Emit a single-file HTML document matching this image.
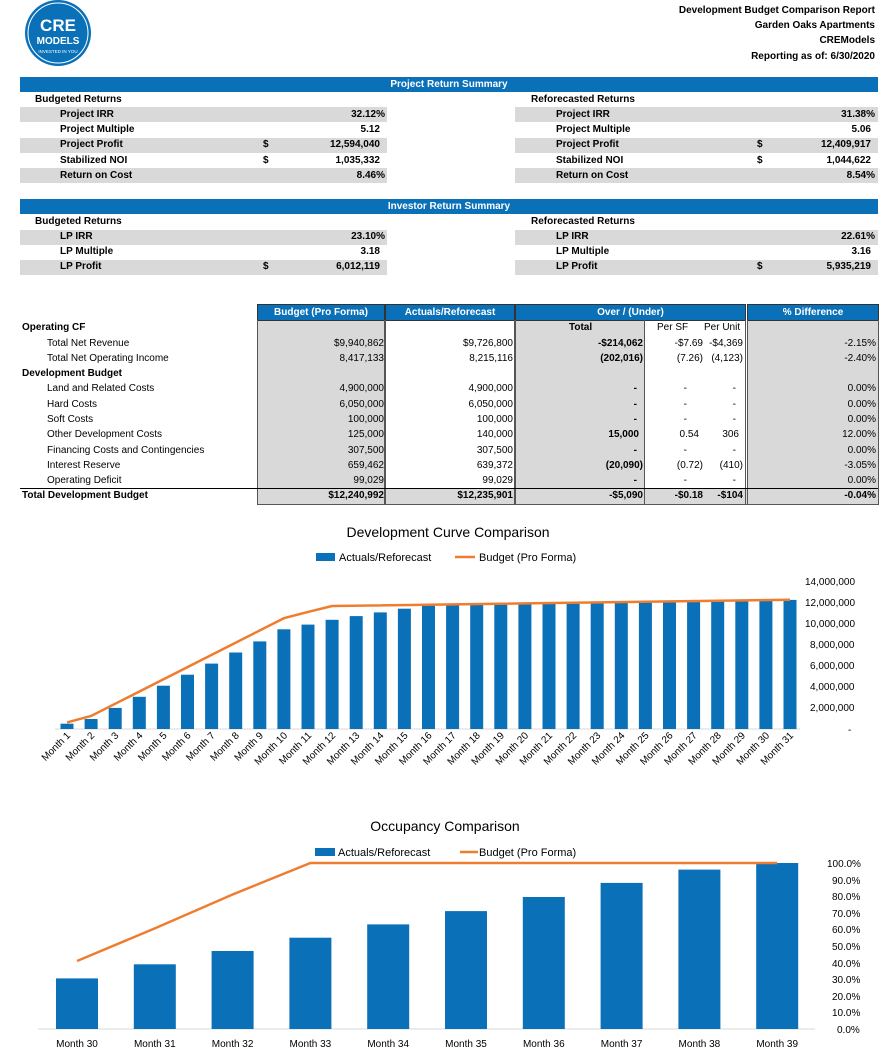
<!DOCTYPE html>
<html><head><meta charset="utf-8"><style>
body{margin:0;width:896px;height:1063px;background:#fff;position:relative;overflow:hidden;font-family:"Liberation Sans",sans-serif;color:#000}
.t{position:absolute;font-size:10px;line-height:12px;white-space:nowrap}
.b{font-weight:bold}
.r{text-align:right}
.bx{position:absolute}
.g{background:#d9d9d9}
.blue{background:#0a70b8}
.w{color:#fff}
</style></head><body>
<!-- logo -->
<svg class="bx" style="left:0;top:0" width="120" height="70">
<circle cx="58" cy="33" r="33" fill="#0a70b8"/>
<circle cx="58" cy="33" r="30" fill="none" stroke="#fff" stroke-width="1"/>
<text x="58" y="31" text-anchor="middle" font-family="Liberation Sans" font-weight="bold" font-size="17" fill="#fff">CRE</text>
<text x="58" y="44" text-anchor="middle" font-family="Liberation Sans" font-weight="bold" font-size="10" fill="#fff">MODELS</text>
<text x="58" y="53" text-anchor="middle" font-family="Liberation Sans" font-size="4.5" fill="#fff">INVESTED IN YOU</text>
</svg>
<div class="t b r" style="right:21px;top:5px">Development Budget Comparison Report</div>
<div class="t b r" style="right:21px;top:20px">Garden Oaks Apartments</div>
<div class="t b r" style="right:21px;top:35px">CREModels</div>
<div class="t b r" style="right:21px;top:51px">Reporting as of: 6/30/2020</div>

<!-- Project Return Summary -->
<div class="bx blue" style="left:20px;top:77px;width:858px;height:15px"></div>
<div class="t b w" style="left:20px;width:858px;text-align:center;top:79px">Project Return Summary</div>
<div class="bx g" style="left:20px;top:107px;width:367px;height:15px"></div>
<div class="bx g" style="left:20px;top:138px;width:367px;height:15px"></div>
<div class="bx g" style="left:20px;top:168px;width:367px;height:15px"></div>
<div class="bx g" style="left:515px;top:107px;width:363px;height:15px"></div>
<div class="bx g" style="left:515px;top:138px;width:363px;height:15px"></div>
<div class="bx g" style="left:515px;top:168px;width:363px;height:15px"></div>
<div class="t b" style="left:35px;top:94px">Budgeted Returns</div>
<div class="t b" style="left:60px;top:109px">Project IRR</div>
<div class="t b" style="left:60px;top:124px">Project Multiple</div>
<div class="t b" style="left:60px;top:139px">Project Profit</div>
<div class="t b" style="left:60px;top:155px">Stabilized NOI</div>
<div class="t b" style="left:60px;top:170px">Return on Cost</div>
<div class="t b" style="left:263px;top:139px">$</div>
<div class="t b" style="left:263px;top:155px">$</div>
<div class="t b r" style="right:511px;top:109px">32.12%</div>
<div class="t b r" style="right:516px;top:124px">5.12</div>
<div class="t b r" style="right:516px;top:139px">12,594,040</div>
<div class="t b r" style="right:516px;top:155px">1,035,332</div>
<div class="t b r" style="right:511px;top:170px">8.46%</div>
<div class="t b" style="left:531px;top:94px">Reforecasted Returns</div>
<div class="t b" style="left:556px;top:109px">Project IRR</div>
<div class="t b" style="left:556px;top:124px">Project Multiple</div>
<div class="t b" style="left:556px;top:139px">Project Profit</div>
<div class="t b" style="left:556px;top:155px">Stabilized NOI</div>
<div class="t b" style="left:556px;top:170px">Return on Cost</div>
<div class="t b" style="left:757px;top:139px">$</div>
<div class="t b" style="left:757px;top:155px">$</div>
<div class="t b r" style="right:21px;top:109px">31.38%</div>
<div class="t b r" style="right:25px;top:124px">5.06</div>
<div class="t b r" style="right:25px;top:139px">12,409,917</div>
<div class="t b r" style="right:25px;top:155px">1,044,622</div>
<div class="t b r" style="right:21px;top:170px">8.54%</div>

<!-- Investor -->
<div class="bx blue" style="left:20px;top:199px;width:858px;height:15px"></div>
<div class="t b w" style="left:20px;width:858px;text-align:center;top:201px">Investor Return Summary</div>
<div class="bx g" style="left:20px;top:230px;width:367px;height:15px"></div>
<div class="bx g" style="left:20px;top:260px;width:367px;height:15px"></div>
<div class="bx g" style="left:515px;top:230px;width:363px;height:15px"></div>
<div class="bx g" style="left:515px;top:260px;width:363px;height:15px"></div>
<div class="t b" style="left:35px;top:216px">Budgeted Returns</div>
<div class="t b" style="left:60px;top:231px">LP IRR</div>
<div class="t b" style="left:60px;top:246px">LP Multiple</div>
<div class="t b" style="left:60px;top:261px">LP Profit</div>
<div class="t b" style="left:263px;top:261px">$</div>
<div class="t b r" style="right:511px;top:231px">23.10%</div>
<div class="t b r" style="right:516px;top:246px">3.18</div>
<div class="t b r" style="right:516px;top:261px">6,012,119</div>
<div class="t b" style="left:531px;top:216px">Reforecasted Returns</div>
<div class="t b" style="left:556px;top:231px">LP IRR</div>
<div class="t b" style="left:556px;top:246px">LP Multiple</div>
<div class="t b" style="left:556px;top:261px">LP Profit</div>
<div class="t b" style="left:757px;top:261px">$</div>
<div class="t b r" style="right:21px;top:231px">22.61%</div>
<div class="t b r" style="right:25px;top:246px">3.16</div>
<div class="t b r" style="right:25px;top:261px">5,935,219</div>

<!-- Main table -->
<div class="bx g" style="left:258px;top:320px;width:126px;height:184px"></div>
<div class="bx g" style="left:516px;top:320px;width:128px;height:184px"></div>
<div class="bx g" style="left:748px;top:320px;width:130px;height:184px"></div>
<div class="bx g" style="left:386px;top:489px;width:128px;height:15px"></div>
<div class="bx g" style="left:644px;top:489px;width:104px;height:15px"></div>
<div class="bx blue" style="left:258px;top:305px;width:126px;height:15px;outline:1px solid #333"></div>
<div class="bx blue" style="left:386px;top:305px;width:128px;height:15px;outline:1px solid #333"></div>
<div class="bx blue" style="left:516px;top:305px;width:229px;height:15px;outline:1px solid #333"></div>
<div class="bx blue" style="left:748px;top:305px;width:130px;height:15px;outline:1px solid #333"></div>
<div class="t b w" style="left:258px;width:126px;text-align:center;top:307px">Budget (Pro Forma)</div>
<div class="t b w" style="left:386px;width:128px;text-align:center;top:307px">Actuals/Reforecast</div>
<div class="t b w" style="left:516px;width:229px;text-align:center;top:307px">Over / (Under)</div>
<div class="t b w" style="left:748px;width:130px;text-align:center;top:307px">% Difference</div>
<!-- vertical lines -->
<div class="bx" style="left:257px;top:320px;width:1px;height:184px;background:#555"></div>
<div class="bx" style="left:384px;top:320px;width:1px;height:184px;background:#555"></div>
<div class="bx" style="left:385px;top:320px;width:1px;height:184px;background:#555"></div>
<div class="bx" style="left:514px;top:320px;width:1px;height:184px;background:#555"></div>
<div class="bx" style="left:515px;top:320px;width:1px;height:184px;background:#555"></div>
<div class="bx" style="left:644px;top:320px;width:1px;height:184px;background:#555"></div>
<div class="bx" style="left:745px;top:320px;width:1px;height:184px;background:#555"></div>
<div class="bx" style="left:747px;top:320px;width:1px;height:184px;background:#555"></div>
<div class="bx" style="left:878px;top:320px;width:1px;height:184px;background:#555"></div>
<div class="bx" style="left:20px;top:488px;width:858px;height:1px;background:#000"></div>
<div class="bx" style="left:257px;top:504px;width:622px;height:1px;background:#555"></div>

<div class="t b" style="left:22px;top:322px">Operating CF</div>
<div class="t b" style="left:569px;top:322px">Total</div>
<div class="t" style="left:657px;top:322px">Per SF</div>
<div class="t" style="left:704px;top:322px">Per Unit</div>
<div class="t" style="left:47px;top:338px">Total Net Revenue</div>
<div class="t" style="left:47px;top:353px">Total Net Operating Income</div>
<div class="t b" style="left:22px;top:368px">Development Budget</div>
<div class="t" style="left:47px;top:383px">Land and Related Costs</div>
<div class="t" style="left:47px;top:399px">Hard Costs</div>
<div class="t" style="left:47px;top:414px">Soft Costs</div>
<div class="t" style="left:47px;top:429px">Other Development Costs</div>
<div class="t" style="left:47px;top:445px">Financing Costs and Contingencies</div>
<div class="t" style="left:47px;top:460px">Interest Reserve</div>
<div class="t" style="left:47px;top:475px">Operating Deficit</div>
<div class="t b" style="left:22px;top:490px">Total Development Budget</div>

<!-- budget col -->
<div class="t r" style="right:512px;top:338px">$9,940,862</div>
<div class="t r" style="right:512px;top:353px">8,417,133</div>
<div class="t r" style="right:512px;top:383px">4,900,000</div>
<div class="t r" style="right:512px;top:399px">6,050,000</div>
<div class="t r" style="right:512px;top:414px">100,000</div>
<div class="t r" style="right:512px;top:429px">125,000</div>
<div class="t r" style="right:512px;top:445px">307,500</div>
<div class="t r" style="right:512px;top:460px">659,462</div>
<div class="t r" style="right:512px;top:475px">99,029</div>
<div class="t b r" style="right:512px;top:490px">$12,240,992</div>
<!-- actuals -->
<div class="t r" style="right:383px;top:338px">$9,726,800</div>
<div class="t r" style="right:383px;top:353px">8,215,116</div>
<div class="t r" style="right:383px;top:383px">4,900,000</div>
<div class="t r" style="right:383px;top:399px">6,050,000</div>
<div class="t r" style="right:383px;top:414px">100,000</div>
<div class="t r" style="right:383px;top:429px">140,000</div>
<div class="t r" style="right:383px;top:445px">307,500</div>
<div class="t r" style="right:383px;top:460px">639,372</div>
<div class="t r" style="right:383px;top:475px">99,029</div>
<div class="t b r" style="right:383px;top:490px">$12,235,901</div>
<!-- total -->
<div class="t b r" style="right:253px;top:338px">-$214,062</div>
<div class="t b r" style="right:253px;top:353px">(202,016)</div>
<div class="t b r" style="right:259px;top:383px">-</div>
<div class="t b r" style="right:259px;top:399px">-</div>
<div class="t b r" style="right:259px;top:414px">-</div>
<div class="t b r" style="right:257px;top:429px">15,000</div>
<div class="t b r" style="right:259px;top:445px">-</div>
<div class="t b r" style="right:253px;top:460px">(20,090)</div>
<div class="t b r" style="right:259px;top:475px">-</div>
<div class="t b r" style="right:253px;top:490px">-$5,090</div>
<!-- per sf -->
<div class="t r" style="right:193px;top:338px">-$7.69</div>
<div class="t r" style="right:193px;top:353px">(7.26)</div>
<div class="t r" style="right:209px;top:383px">-</div>
<div class="t r" style="right:209px;top:399px">-</div>
<div class="t r" style="right:209px;top:414px">-</div>
<div class="t r" style="right:197px;top:429px">0.54</div>
<div class="t r" style="right:209px;top:445px">-</div>
<div class="t r" style="right:193px;top:460px">(0.72)</div>
<div class="t r" style="right:209px;top:475px">-</div>
<div class="t b r" style="right:193px;top:490px">-$0.18</div>
<!-- per unit -->
<div class="t r" style="right:153px;top:338px">-$4,369</div>
<div class="t r" style="right:153px;top:353px">(4,123)</div>
<div class="t r" style="right:160px;top:383px">-</div>
<div class="t r" style="right:160px;top:399px">-</div>
<div class="t r" style="right:160px;top:414px">-</div>
<div class="t r" style="right:157px;top:429px">306</div>
<div class="t r" style="right:160px;top:445px">-</div>
<div class="t r" style="right:153px;top:460px">(410)</div>
<div class="t r" style="right:160px;top:475px">-</div>
<div class="t b r" style="right:153px;top:490px">-$104</div>
<!-- pct -->
<div class="t r" style="right:20px;top:338px">-2.15%</div>
<div class="t r" style="right:20px;top:353px">-2.40%</div>
<div class="t r" style="right:20px;top:383px">0.00%</div>
<div class="t r" style="right:20px;top:399px">0.00%</div>
<div class="t r" style="right:20px;top:414px">0.00%</div>
<div class="t r" style="right:20px;top:429px">12.00%</div>
<div class="t r" style="right:20px;top:445px">0.00%</div>
<div class="t r" style="right:20px;top:460px">-3.05%</div>
<div class="t r" style="right:20px;top:475px">0.00%</div>
<div class="t b r" style="right:20px;top:490px">-0.04%</div>

<!-- Chart 1 -->
<svg class="bx" style="left:0;top:0" width="896" height="1063" font-family="Liberation Sans, sans-serif">
<text x="448" y="537" text-anchor="middle" font-size="14">Development Curve Comparison</text>
<rect x="316" y="553" width="19" height="8" fill="#0a70b8"/>
<text x="339" y="561" font-size="11">Actuals/Reforecast</text>
<line x1="455" y1="557" x2="475" y2="557" stroke="#ef7d2f" stroke-width="2.5"/>
<text x="479" y="561" font-size="11">Budget (Pro Forma)</text>
<g font-size="10" text-anchor="start">
<text x="805" y="585">14,000,000</text>
<text x="805" y="606">12,000,000</text>
<text x="805" y="627">10,000,000</text>
<text x="810" y="648">8,000,000</text>
<text x="810" y="669">6,000,000</text>
<text x="810" y="690">4,000,000</text>
<text x="810" y="711">2,000,000</text>
<text x="848" y="733">-</text>
</g>
<line x1="55" y1="729" x2="800" y2="729" stroke="#d9d9d9" stroke-width="1"/>
<g fill="#0a70b8">
<rect x="60.5" y="723.7" width="13" height="5.3"/>
<rect x="84.6" y="719" width="13" height="10"/>
<rect x="108.7" y="707.9" width="13" height="21.1"/>
<rect x="132.8" y="696.8" width="13" height="32.2"/>
<rect x="156.9" y="685.7" width="13" height="43.3"/>
<rect x="181" y="674.7" width="13" height="54.3"/>
<rect x="205.1" y="663.6" width="13" height="65.4"/>
<rect x="229.2" y="652.5" width="13" height="76.5"/>
<rect x="253.3" y="641.4" width="13" height="87.6"/>
<rect x="277.4" y="629.3" width="13" height="99.7"/>
<rect x="301.5" y="624.6" width="13" height="104.4"/>
<rect x="325.6" y="619.8" width="13" height="109.2"/>
<rect x="349.7" y="616.1" width="13" height="112.9"/>
<rect x="373.8" y="612.4" width="13" height="116.6"/>
<rect x="397.9" y="608.7" width="13" height="120.3"/>
<rect x="422" y="605.6" width="13" height="123.4"/>
<rect x="446.1" y="605" width="13" height="124"/>
<rect x="470.2" y="604.6" width="13" height="124.4"/>
<rect x="494.3" y="604.3" width="13" height="124.7"/>
<rect x="518.4" y="603.9" width="13" height="125.1"/>
<rect x="542.5" y="603.6" width="13" height="125.4"/>
<rect x="566.6" y="603.1" width="13" height="125.9"/>
<rect x="590.7" y="602.8" width="13" height="126.2"/>
<rect x="614.8" y="602.4" width="13" height="126.6"/>
<rect x="638.9" y="602.1" width="13" height="126.9"/>
<rect x="663" y="601.7" width="13" height="127.3"/>
<rect x="687.1" y="601.3" width="13" height="127.7"/>
<rect x="711.2" y="600.9" width="13" height="128.1"/>
<rect x="735.3" y="600.6" width="13" height="128.4"/>
<rect x="759.4" y="600.2" width="13" height="128.8"/>
<rect x="783.5" y="599.9" width="13" height="129.1"/>
</g>
<polyline points="67,722.4 91.1,716 283.9,618.2 308,611.9 332.1,606 790,599.7" fill="none" stroke="#ef7d2f" stroke-width="2.5"/>
<g font-size="10" text-anchor="end">
<text transform="translate(71,736) rotate(-45)">Month 1</text>
<text transform="translate(95.1,736) rotate(-45)">Month 2</text>
<text transform="translate(119.2,736) rotate(-45)">Month 3</text>
<text transform="translate(143.3,736) rotate(-45)">Month 4</text>
<text transform="translate(167.4,736) rotate(-45)">Month 5</text>
<text transform="translate(191.5,736) rotate(-45)">Month 6</text>
<text transform="translate(215.6,736) rotate(-45)">Month 7</text>
<text transform="translate(239.7,736) rotate(-45)">Month 8</text>
<text transform="translate(263.8,736) rotate(-45)">Month 9</text>
<text transform="translate(287.9,736) rotate(-45)">Month 10</text>
<text transform="translate(312,736) rotate(-45)">Month 11</text>
<text transform="translate(336.1,736) rotate(-45)">Month 12</text>
<text transform="translate(360.2,736) rotate(-45)">Month 13</text>
<text transform="translate(384.3,736) rotate(-45)">Month 14</text>
<text transform="translate(408.4,736) rotate(-45)">Month 15</text>
<text transform="translate(432.5,736) rotate(-45)">Month 16</text>
<text transform="translate(456.6,736) rotate(-45)">Month 17</text>
<text transform="translate(480.7,736) rotate(-45)">Month 18</text>
<text transform="translate(504.8,736) rotate(-45)">Month 19</text>
<text transform="translate(528.9,736) rotate(-45)">Month 20</text>
<text transform="translate(553,736) rotate(-45)">Month 21</text>
<text transform="translate(577.1,736) rotate(-45)">Month 22</text>
<text transform="translate(601.2,736) rotate(-45)">Month 23</text>
<text transform="translate(625.3,736) rotate(-45)">Month 24</text>
<text transform="translate(649.4,736) rotate(-45)">Month 25</text>
<text transform="translate(673.5,736) rotate(-45)">Month 26</text>
<text transform="translate(697.6,736) rotate(-45)">Month 27</text>
<text transform="translate(721.7,736) rotate(-45)">Month 28</text>
<text transform="translate(745.8,736) rotate(-45)">Month 29</text>
<text transform="translate(769.9,736) rotate(-45)">Month 30</text>
<text transform="translate(794,736) rotate(-45)">Month 31</text>
</g>

<!-- Chart 2 -->
<text x="445" y="831" text-anchor="middle" font-size="14">Occupancy Comparison</text>
<rect x="315" y="848" width="20" height="8" fill="#0a70b8"/>
<text x="338" y="856" font-size="11">Actuals/Reforecast</text>
<line x1="460" y1="852" x2="478" y2="852" stroke="#ef7d2f" stroke-width="2.5"/>
<text x="479" y="856" font-size="11">Budget (Pro Forma)</text>
<g font-size="10">
<text x="827" y="867">100.0%</text>
<text x="832" y="884">90.0%</text>
<text x="832" y="900">80.0%</text>
<text x="832" y="917">70.0%</text>
<text x="832" y="933">60.0%</text>
<text x="832" y="950">50.0%</text>
<text x="832" y="967">40.0%</text>
<text x="832" y="983">30.0%</text>
<text x="832" y="1000">20.0%</text>
<text x="832" y="1016">10.0%</text>
<text x="837" y="1033">0.0%</text>
</g>
<line x1="38" y1="1029" x2="815" y2="1029" stroke="#d9d9d9"/>
<g fill="#0a70b8">
<rect x="56" y="978.4" width="42" height="50.6"/>
<rect x="133.8" y="964.3" width="42" height="64.7"/>
<rect x="211.6" y="951" width="42" height="78"/>
<rect x="289.4" y="937.7" width="42" height="91.3"/>
<rect x="367.2" y="924.4" width="42" height="104.6"/>
<rect x="445" y="911.1" width="42" height="117.9"/>
<rect x="522.8" y="897" width="42" height="132"/>
<rect x="600.6" y="882.9" width="42" height="146.1"/>
<rect x="678.4" y="869.6" width="42" height="159.4"/>
<rect x="756.2" y="863" width="42" height="166"/>
</g>
<polyline points="77,961 154.8,928.4 232.6,894.5 310.4,863 777.2,863" fill="none" stroke="#ef7d2f" stroke-width="2.5"/>
<g font-size="10" text-anchor="middle">
<text x="77" y="1047">Month 30</text>
<text x="154.8" y="1047">Month 31</text>
<text x="232.6" y="1047">Month 32</text>
<text x="310.4" y="1047">Month 33</text>
<text x="388.2" y="1047">Month 34</text>
<text x="466" y="1047">Month 35</text>
<text x="543.8" y="1047">Month 36</text>
<text x="621.6" y="1047">Month 37</text>
<text x="699.4" y="1047">Month 38</text>
<text x="777.2" y="1047">Month 39</text>
</g>
</svg>
</body></html>
